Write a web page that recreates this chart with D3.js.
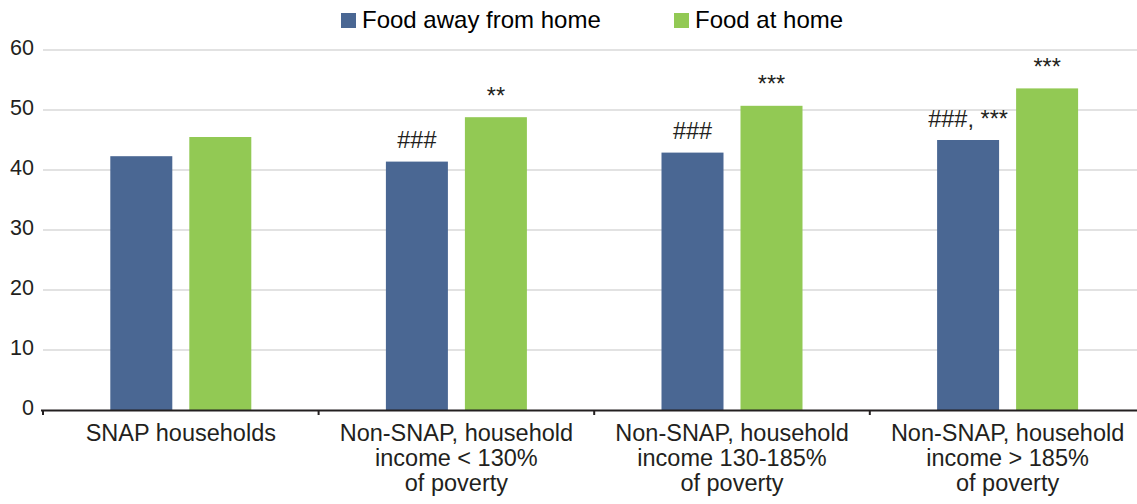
<!DOCTYPE html>
<html>
<head>
<meta charset="utf-8">
<script src="https://cdn.jsdelivr.net/npm/d3@7"></script>
<style>
  html, body { margin: 0; padding: 0; background: #fff; }
  svg { display: block; font-family: "Liberation Sans", Arial, Helvetica, sans-serif; }
</style>
</head>
<body>
<svg id="chart" width="1137" height="504"></svg>
<script>
// ---- data ----
const categories = [
  ["SNAP households"],
  ["Non-SNAP, household", "income < 130%", "of poverty"],
  ["Non-SNAP, household", "income 130-185%", "of poverty"],
  ["Non-SNAP, household", "income > 185%", "of poverty"]
];
const seriesNames = ["Food away from home", "Food at home"];
const foodAway = [42.3, 41.4, 42.9, 45.0];
const foodHome = [45.5, 48.8, 50.7, 53.6];
const notesAway = ["", "###", "###", "###, ***"];
const notesHome = ["", "**", "***", "***"];
const yTicks = [0, 10, 20, 30, 40, 50, 60];
const colors = ["#4a6793", "#92c954"];

// ---- layout ----
const svg = d3.select("#chart");
const textColor = "#231f20";
const catKeys = categories.map((c, i) => "c" + i);
const values = [foodAway, foodHome];
const notes = [notesAway, notesHome];

const y = d3.scaleLinear().domain([0, 60]).range([410, 50]);
const x0 = d3.scaleBand().domain(catKeys).range([43, 1145.4]).padding(0);
const x1 = d3.scaleBand().domain(seriesNames).range([0, 141]).paddingInner(0.2152).paddingOuter(0);
const barX = (i, s) => x0(catKeys[i]) + x0.bandwidth() / 2 - 70.5 + x1(seriesNames[s]);

// gridlines
svg.append("g")
  .selectAll("line")
  .data(yTicks.filter(t => t > 0))
  .join("line")
  .attr("x1", 43).attr("x2", 1137)
  .attr("y1", d => y(d)).attr("y2", d => y(d))
  .attr("stroke", "#d9d9d9").attr("stroke-width", 1.5);

// y tick labels
svg.append("g")
  .selectAll("text")
  .data(yTicks)
  .join("text")
  .attr("x", 34)
  .attr("y", d => y(d) - 2)
  .attr("text-anchor", "end")
  .attr("dominant-baseline", "central")
  .attr("font-size", 21.5)
  .attr("fill", textColor)
  .text(d => d);

// bars
seriesNames.forEach((name, s) => {
  svg.append("g")
    .selectAll("rect")
    .data(values[s])
    .join("rect")
    .attr("x", (d, i) => barX(i, s))
    .attr("width", x1.bandwidth())
    .attr("y", d => y(d))
    .attr("height", d => y(0) - y(d))
    .attr("fill", colors[s]);

  svg.append("g")
    .selectAll("text")
    .data(notes[s])
    .join("text")
    .attr("x", (d, i) => barX(i, s) + x1.bandwidth() / 2)
    .attr("y", (d, i) => y(values[s][i]) - 13.5)
    .attr("text-anchor", "middle")
    .attr("font-size", 23.5)
    .attr("fill", textColor)
    .text(d => d);
});

// x axis
const xAxis = svg.append("g");
xAxis.append("line")
  .attr("x1", 41).attr("x2", 1137)
  .attr("y1", 410.5).attr("y2", 410.5)
  .attr("stroke", "#231f20").attr("stroke-width", 2);
xAxis.selectAll("line.tick")
  .data(catKeys)
  .join("line")
  .attr("class", "tick")
  .attr("x1", d => x0(d)).attr("x2", d => x0(d))
  .attr("y1", 410).attr("y2", 415)
  .attr("stroke", "#231f20").attr("stroke-width", 2);

// category labels
const lab = svg.append("g")
  .selectAll("text")
  .data(categories)
  .join("text")
  .attr("text-anchor", "middle")
  .attr("font-size", 23.5)
  .attr("fill", textColor)
  .attr("x", (d, i) => x0(catKeys[i]) + x0.bandwidth() / 2)
  .attr("y", 440.5);
lab.selectAll("tspan")
  .data((d, i) => d.map(t => ({ t, i })))
  .join("tspan")
  .attr("x", d => x0(catKeys[d.i]) + x0.bandwidth() / 2)
  .attr("dy", (d, j) => j === 0 ? 0 : 25)
  .text(d => d.t);

// legend
const legendX = [341, 674];
const leg = svg.append("g");
seriesNames.forEach((name, s) => {
  leg.append("rect")
    .attr("x", legendX[s]).attr("y", 13)
    .attr("width", 15).attr("height", 15)
    .attr("fill", colors[s]);
  leg.append("text")
    .attr("x", legendX[s] + 21).attr("y", 28)
    .attr("font-size", 24)
    .attr("fill", "#000")
    .text(name);
});
</script>
</body>
</html>
